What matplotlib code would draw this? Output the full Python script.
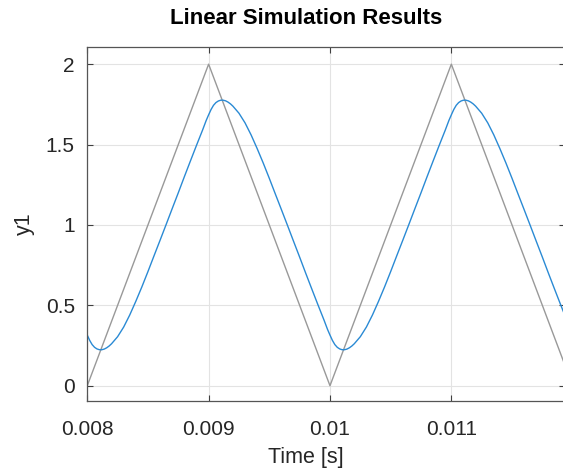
import matplotlib
matplotlib.use("Agg")
import matplotlib.pyplot as plt

plt.rcParams['font.family'] = ['Liberation Sans', 'DejaVu Sans']

# input signal (triangle wave), vertices
t_in = [0.008, 0.009, 0.010, 0.011, 0.012]
u_in = [0.0, 2.0, 0.0, 2.0, 0.0]

# simulated output y1 (time in ms)
t_out_ms = [
    8.00, 8.02, 8.04, 8.06, 8.08, 8.10, 8.12, 8.14, 8.16, 8.18, 8.20, 8.25,
    8.30, 8.35, 8.40, 8.45, 8.50, 8.55, 8.60, 8.65, 8.70, 8.75, 8.80, 8.85,
    8.90, 8.95, 8.98,
    9.00, 9.02, 9.04, 9.06, 9.08, 9.10, 9.12, 9.14, 9.16, 9.18, 9.20, 9.25,
    9.30, 9.35, 9.40, 9.45, 9.50, 9.55, 9.60, 9.65, 9.70, 9.75, 9.80, 9.85,
    9.90, 9.95, 9.98,
    10.00, 10.02, 10.04, 10.06, 10.08, 10.10, 10.12, 10.14, 10.16, 10.18, 10.20, 10.25,
    10.30, 10.35, 10.40, 10.45, 10.50, 10.55, 10.60, 10.65, 10.70, 10.75, 10.80, 10.85,
    10.90, 10.95, 10.98,
    11.00, 11.02, 11.04, 11.06, 11.08, 11.10, 11.12, 11.14, 11.16, 11.18, 11.20, 11.25,
    11.30, 11.35, 11.40, 11.45, 11.50, 11.55, 11.60, 11.65, 11.70, 11.75, 11.80, 11.85,
    11.90, 11.95,
]
y_out = [
    0.315, 0.282, 0.256, 0.239, 0.229, 0.224, 0.224, 0.228, 0.236, 0.247, 0.261, 0.305,
    0.365, 0.440, 0.525, 0.615, 0.710, 0.808, 0.905, 1.003, 1.102, 1.200, 1.300, 1.398,
    1.495, 1.590, 1.650,
    1.685, 1.718, 1.744, 1.761, 1.771, 1.776, 1.776, 1.772, 1.764, 1.753, 1.739, 1.695,
    1.635, 1.560, 1.475, 1.385, 1.290, 1.192, 1.095, 0.997, 0.898, 0.800, 0.700, 0.602,
    0.505, 0.410, 0.350,
    0.315, 0.282, 0.256, 0.239, 0.229, 0.224, 0.224, 0.228, 0.236, 0.247, 0.261, 0.305,
    0.365, 0.440, 0.525, 0.615, 0.710, 0.808, 0.905, 1.003, 1.102, 1.200, 1.300, 1.398,
    1.495, 1.590, 1.650,
    1.685, 1.718, 1.744, 1.761, 1.771, 1.776, 1.776, 1.772, 1.764, 1.753, 1.739, 1.695,
    1.635, 1.560, 1.475, 1.385, 1.290, 1.192, 1.095, 0.997, 0.898, 0.800, 0.700, 0.602,
    0.505, 0.410,
]
t_out = [v / 1000.0 for v in t_out_ms]

x_ticks = [0.008, 0.009, 0.010, 0.011]
x_labels = ['0.008', '0.009', '0.01', '0.011']
y_ticks = [0, 0.5, 1, 1.5, 2]
y_labels = ['0', '0.5', '1', '1.5', '2']

txt = '#262626'
fig = plt.figure(figsize=(5.63, 4.72), dpi=100)
ax = fig.add_axes([0.155, 0.1504, 0.848, 0.7494])

ax.plot(t_in, u_in, color='#999999', lw=1.0)
ax.plot(t_out, y_out, color='#2a8ad4', lw=1.0)

ax.set_xlim(0.008, 0.011934)
ax.set_ylim(-0.095, 2.105)
ax.set_xticks(x_ticks, x_labels)
ax.set_yticks(y_ticks, y_labels)
ax.grid(True, color='#e3e3e3', lw=0.8)
ax.set_axisbelow(True)
ax.tick_params(direction='in', length=4, width=0.8, colors='#404040',
               labelcolor=txt, labelsize=15, top=True, right=True)
ax.tick_params(axis='x', pad=13.5)
ax.tick_params(axis='y', pad=9)
for s in ax.spines.values():
    s.set_color('#555555')
    s.set_linewidth(0.9)

ax.set_title('Linear Simulation Results', fontsize=16, fontweight='bold',
             color='black', x=0.458, pad=17)
ax.set_xlabel('Time [s]', fontsize=15.5, color=txt, x=0.458, labelpad=6)
ax.set_ylabel('y1', fontsize=15.5, color=txt, labelpad=8)

fig.savefig('out.png', dpi=100)
